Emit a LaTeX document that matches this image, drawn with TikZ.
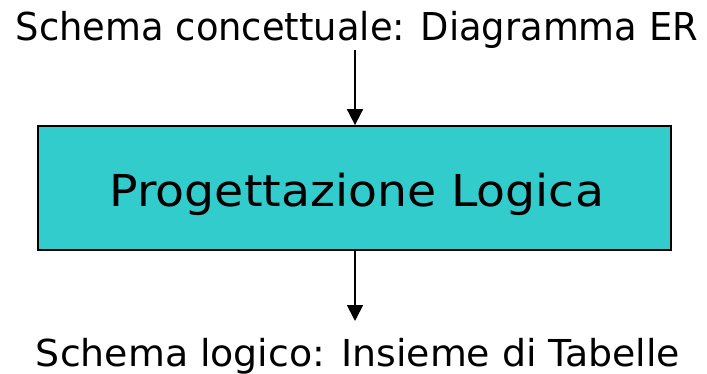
\documentclass[tikz,border=0pt]{standalone}
\usepackage{fontspec}
\setmainfont{DejaVu Sans Condensed}
\usetikzlibrary{arrows.meta}
\definecolor{boxfill}{HTML}{33CCCC}
\tikzset{
  lbl/.style={inner sep=0pt, anchor=base, font=\fontsize{33}{36}\selectfont},
  mainbox/.style={draw=black, line width=1.8pt, fill=boxfill},
  flow/.style={line width=1.8pt, -{Triangle[length=16pt,width=16pt]}}
}
\begin{document}
\begin{tikzpicture}[x=1pt,y=-1pt]
\useasboundingbox (0,0) rectangle (707,374);
\node[mainbox, minimum width=633pt, minimum height=124pt, inner sep=0pt] (box) at (354.5,188) {};
\node[lbl] (top) at (357,41) {\resizebox{682pt}{29.2pt}{Schema concettuale: Diagramma ER}};
\node[lbl] (mid) at (357,207) {\resizebox{494pt}{33.4pt}{Progettazione Logica}};
\node[lbl] (bot) at (358,366) {\resizebox{644pt}{28.2pt}{Schema logico: Insieme di Tabelle}};
\coordinate (a1) at (355,50);
\coordinate (b1) at (355,321);
\draw[flow] (a1) -- (a1 |- box.north);
\draw[flow] (a1 |- box.south) -- (b1);
\end{tikzpicture}
\end{document}
